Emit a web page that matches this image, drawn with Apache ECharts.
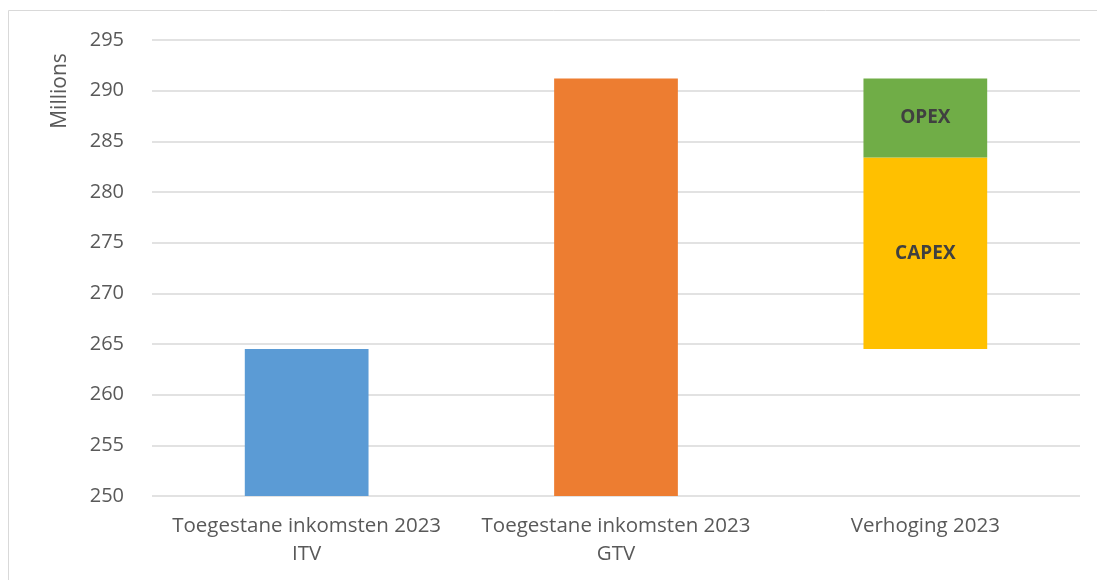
<!DOCTYPE html>
<html>
<head>
<meta charset="utf-8">
<script src="https://cdn.jsdelivr.net/npm/echarts@6/dist/echarts.min.js"></script>
<style>html,body{margin:0;padding:0;background:#fff}#c{width:1097px;height:580px}</style>
</head>
<body>
<div id="c"></div>
<script>
const categories = ['Toegestane inkomsten 2023\nITV', 'Toegestane inkomsten 2023\nGTV', 'Verhoging 2023'];
const baseValues = ['-', '-', 264.5];
const itvValues = [264.5, '-', '-'];
const gtvValues = ['-', 291.2, '-'];
const capexValues = ['-', '-', 18.9];
const opexValues = ['-', '-', 7.8];
const yMin = 250, yMax = 295, yStep = 5;
const axisTitle = 'Millions';

const chart = echarts.init(document.getElementById('c'));
const font = 'Open Sans, Noto Sans, sans-serif';
const lbl = {show: true, position: 'inside', fontFamily: font, fontSize: 19, fontWeight: 'bold', color: '#404040'};
chart.setOption({
  animation: false,
  graphic: [
    {type: 'rect', shape: {x: 8.5, y: 10.5, width: 1200, height: 700}, style: {fill: 'none', stroke: '#d9d9d9', lineWidth: 1}, silent: true},
    {type: 'text', x: 60, y: 91, rotation: Math.PI / 2, style: {text: axisTitle, fontFamily: font, fontSize: 21, fill: '#595959', align: 'center', verticalAlign: 'middle'}, silent: true}
  ],
  grid: {left: 152, right: 17, top: 40, bottom: 84},
  xAxis: {
    type: 'category', data: categories,
    axisLine: {show: false}, axisTick: {show: false},
    axisLabel: {interval: 0, hideOverlap: false, fontFamily: font, fontSize: 20.5, color: '#595959', lineHeight: 28, margin: 16, align: 'center'}
  },
  yAxis: {
    type: 'value', min: yMin, max: yMax, interval: yStep,
    axisLine: {show: false}, axisTick: {show: false},
    axisLabel: {fontFamily: font, fontSize: 20, color: '#595959', margin: 28},
    splitLine: {lineStyle: {color: '#d9d9d9', width: 1.5}}
  },
  series: [
    {type: 'bar', stack: 's', data: baseValues, barWidth: '40%', itemStyle: {color: 'transparent'}, silent: true},
    {type: 'bar', stack: 's', data: itvValues, itemStyle: {color: '#5b9bd5'}},
    {type: 'bar', stack: 's', data: gtvValues, itemStyle: {color: '#ed7d31'}},
    {type: 'bar', stack: 's', name: 'CAPEX', data: capexValues, itemStyle: {color: '#ffc000'}, label: Object.assign({formatter: 'CAPEX'}, lbl)},
    {type: 'bar', stack: 's', name: 'OPEX', data: opexValues, itemStyle: {color: '#70ad47'}, label: Object.assign({formatter: 'OPEX'}, lbl)}
  ]
});
</script>
</body>
</html>
